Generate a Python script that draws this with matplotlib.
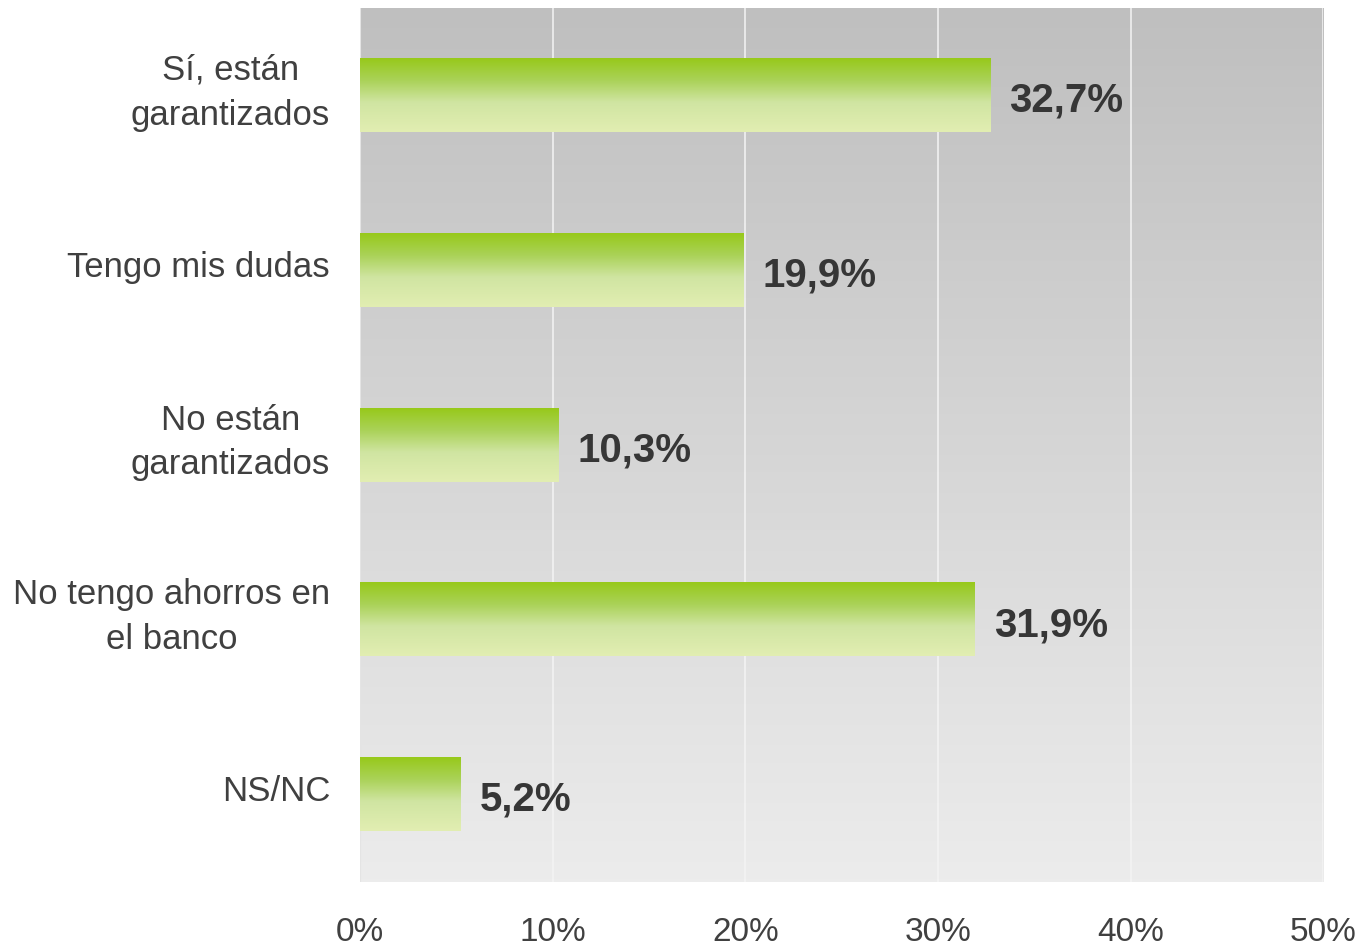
import matplotlib.pyplot as plt
import numpy as np
from matplotlib.colors import LinearSegmentedColormap

categories = ['Sí, están\ngarantizados', 'Tengo mis dudas', 'No están\ngarantizados',
              'No tengo ahorros en\nel banco', 'NS/NC']
values = [32.7, 19.9, 10.3, 31.9, 5.2]
value_labels = ['32,7%', '19,9%', '10,3%', '31,9%', '5,2%']
ticks = [0, 10, 20, 30, 40, 50]
tick_labels = ['0%', '10%', '20%', '30%', '40%', '50%']

plt.rcParams['font.family'] = ['Liberation Sans', 'DejaVu Sans']

fig = plt.figure(figsize=(13.64, 9.46), dpi=100)
ax = fig.add_axes([0.2639, 0.0677, 0.9703 - 0.2639, 0.9915 - 0.0677])

# gray background gradient
bg = LinearSegmentedColormap.from_list('bg', ['#ececec', '#bfbfbf'])
ax.imshow(np.linspace(0, 1, 256).reshape(-1, 1)[::-1], cmap=bg, aspect='auto',
          extent=[0, 1, 0, 1], transform=ax.transAxes, zorder=0)

y = np.arange(len(categories))
bars = ax.barh(y, values, height=0.42, color='none', zorder=3)

green = LinearSegmentedColormap.from_list('g', [(0, '#97c91a'), (0.3, '#aad258'),
                                                (0.6, '#d0e5a2'), (1, '#e2eeb2')])
grad = np.linspace(0, 1, 256).reshape(-1, 1)
for b in bars:
    x0, y0, w, h = b.get_x(), b.get_y(), b.get_width(), b.get_height()
    ax.imshow(grad, cmap=green, aspect='auto', extent=[x0, x0 + w, y0 + h, y0], zorder=3)

for yi, v, lab in zip(y, values, value_labels):
    ax.text(v + 1.0, yi + 0.03, lab, va='center', ha='left', fontsize=29,
            fontweight='bold', color='#363636', zorder=4)

# category labels: right aligned block, centered lines
for yi, cat in zip(y, categories):
    ax.text(-0.031, yi - 0.015, cat, transform=ax.get_yaxis_transform(), ha='right',
            va='center', multialignment='center', fontsize=25, color='#404040',
            linespacing=1.45)

ax.set_xlim(0, 50)
ax.set_ylim(len(categories) - 0.5, -0.5)
ax.set_xticks(ticks)
ax.set_xticklabels(tick_labels, fontsize=24, color='#404040')
ax.set_yticks([])
ax.tick_params(axis='x', length=0, pad=25)
for xv in ticks[1:]:
    ax.axvline(xv, color='#f4f4f4', linewidth=1.1, zorder=1)
for s in ax.spines.values():
    s.set_visible(False)
ax.axvline(0, color='#e4e4e4', linewidth=1.5, zorder=2)

fig.savefig('out.png', dpi=100)
